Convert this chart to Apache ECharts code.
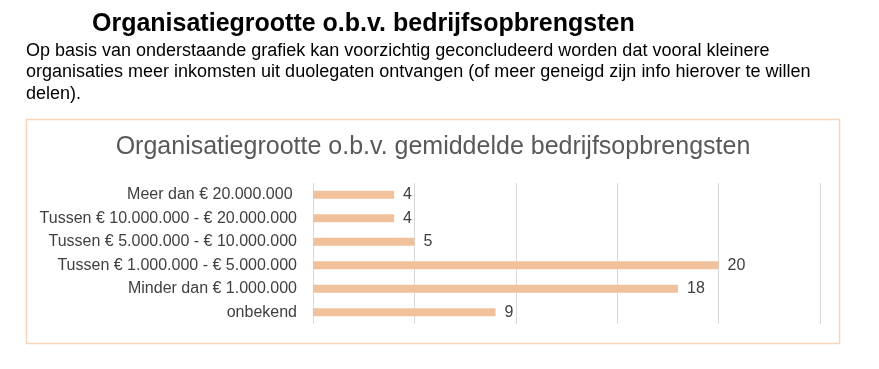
<!DOCTYPE html>
<html>
<head>
<meta charset="utf-8">
<script src="https://cdn.jsdelivr.net/npm/echarts@6/dist/echarts.min.js"></script>
<style>
html,body{margin:0;padding:0;background:#fff;}
#chart{width:879px;height:369px;}
</style>
</head>
<body>
<div id="chart"></div>
<script>
const pageTitle = 'Organisatiegrootte o.b.v. bedrijfsopbrengsten';
const introLines = [
  'Op basis van onderstaande grafiek kan voorzichtig geconcludeerd worden dat vooral kleinere',
  'organisaties meer inkomsten uit duolegaten ontvangen (of meer geneigd zijn info hierover te willen',
  'delen).'
];
const chartTitle = 'Organisatiegrootte o.b.v. gemiddelde bedrijfsopbrengsten';
const categories = [
  'Meer dan € 20.000.000 ',
  'Tussen € 10.000.000 - € 20.000.000',
  'Tussen € 5.000.000 - € 10.000.000',
  'Tussen € 1.000.000 - € 5.000.000',
  'Minder dan € 1.000.000',
  'onbekend'
];
const values = [4, 4, 5, 20, 18, 9];

const font = '"Liberation Sans", Arial, sans-serif';
const chart = echarts.init(document.getElementById('chart'), null, {renderer: 'canvas'});
chart.setOption({
  animation: false,
  backgroundColor: '#ffffff',
  title: [
    {text: pageTitle, left: 92, top: 12, padding: 0,
     textStyle: {fontFamily: font, fontSize: 25, fontWeight: 'bold', color: '#000'}},
    {text: introLines.join('\n'), left: 26, top: 40, padding: 0,
     textStyle: {fontFamily: font, fontSize: 18, fontWeight: 'normal', color: '#000', lineHeight: 21.5}},
    {text: chartTitle, left: 433, textAlign: 'center', top: 135, padding: 0,
     textStyle: {fontFamily: font, fontSize: 25, fontWeight: 'normal', color: '#595959'}}
  ],
  graphic: [
    {type: 'rect', shape: {x: 26.5, y: 119.5, width: 813, height: 224},
     style: {fill: 'none', stroke: '#f4d6bb', lineWidth: 1.5}, z: -1}
  ],
  grid: {left: 313, top: 183, width: 507, height: 141, containLabel: false},
  xAxis: {
    type: 'value', min: 0, max: 25, interval: 5,
    axisLabel: {show: false}, axisLine: {show: false}, axisTick: {show: false},
    splitLine: {show: true, lineStyle: {color: '#d9d9d9', width: 1}}
  },
  yAxis: {
    type: 'category', data: categories, inverse: true,
    axisLine: {show: false}, axisTick: {show: false},
    axisLabel: {fontFamily: font, fontSize: 16, color: '#404040', margin: 16}
  },
  series: [{
    type: 'bar', data: values, barWidth: 8,
    itemStyle: {color: '#f1c19b'},
    label: {show: true, position: 'right', distance: 9,
      fontFamily: font, fontSize: 16, color: '#404040'}
  }]
});
</script>
</body>
</html>
